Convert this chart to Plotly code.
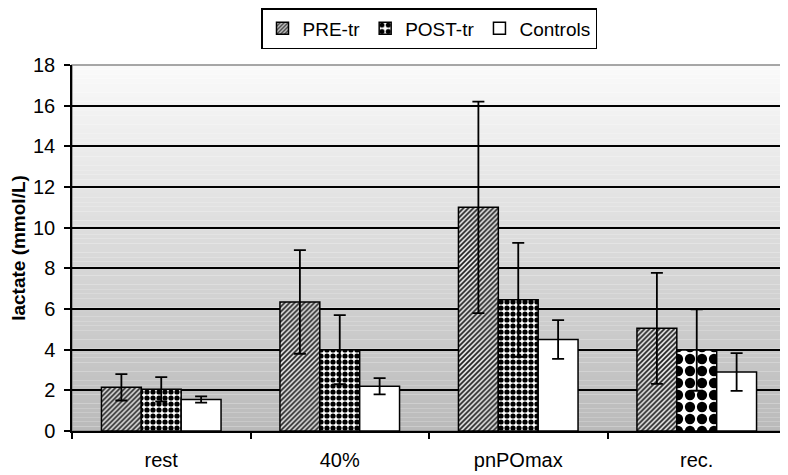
import plotly.graph_objects as go

categories = ["rest", "40%", "pnPOmax", "rec."]
pre_tr = [2.15, 6.35, 11.0, 5.05]
pre_tr_err = [0.65, 2.55, 5.2, 2.73]
post_tr = [2.05, 4.0, 6.45, 3.98]
post_tr_err = [0.6, 1.7, 2.8, 2.0]
controls = [1.55, 2.2, 4.5, 2.9]
controls_err = [0.15, 0.4, 0.95, 0.93]
y_ticks = list(range(0, 19, 2))

FONT = "Liberation Sans, Arial, sans-serif"

def err(vals):
    return dict(type="data", array=vals, visible=True, color="black", thickness=1.8, width=6)

fig = go.Figure()
fig.add_trace(go.Bar(
    name="PRE-tr", x=categories, y=pre_tr, error_y=err(pre_tr_err),
    marker=dict(color="white", line=dict(color="black", width=1.5),
                pattern=dict(shape="/", fgcolor="#222222", bgcolor="#e8e8e8", size=3.5, solidity=0.5,
                             fgopacity=1)),
))
fig.add_trace(go.Bar(
    name="POST-tr", x=categories, y=post_tr, error_y=err(post_tr_err),
    marker=dict(color="white", line=dict(color="black", width=1.5),
                pattern=dict(shape=".", fgcolor="black", bgcolor="white", size=[6, 6, 6, 12],
                             solidity=[0.6, 0.6, 0.6, 0.58], fgopacity=1)),
))
fig.add_trace(go.Bar(
    name="Controls", x=categories, y=controls, error_y=err(controls_err),
    marker=dict(color="white", line=dict(color="black", width=1.5)),
))

# gradient background bands
shapes = []
n = 80
top = (250, 250, 250)
bot = (186, 186, 186)
for i in range(n):
    f = (i + 0.5) / n
    c = tuple(int(round(bot[k] + (top[k] - bot[k]) * f)) for k in range(3))
    shapes.append(dict(type="rect", xref="paper", yref="paper", x0=0, x1=1,
                       y0=i / n, y1=(i + 1) / n, fillcolor="rgb(%d,%d,%d)" % c,
                       line=dict(width=0), layer="below"))
shapes.append(dict(type="rect", xref="paper", yref="paper", x0=0, x1=1, y0=0, y1=1,
                   line=dict(color="#8a8a8a", width=1.5), layer="below"))

fig.update_layout(
    width=780, height=467,
    margin=dict(l=64, r=2, t=57, b=44, autoexpand=False),
    paper_bgcolor="white", plot_bgcolor="rgba(0,0,0,0)",
    font=dict(family=FONT, size=20, color="black"),
    barmode="group", bargap=0.33, bargroupgap=0,
    shapes=shapes,
    showlegend=True,
    legend=dict(orientation="h", x=0.5, xanchor="center", yref="container", y=1.0, yanchor="top",
                bgcolor="white", bordercolor="black", borderwidth=1.5,
                font=dict(family=FONT, size=19), itemwidth=30, tracegroupgap=0),
    xaxis=dict(type="category", automargin=False, showline=True, linecolor="black", linewidth=1.5,
               ticks="outside", tickson="boundaries", ticklen=6, tickcolor="black", tickwidth=1.5,
               showgrid=False, tickfont=dict(size=20), ticklabelstandoff=10),
    yaxis=dict(range=[0, 18], tickvals=y_ticks, automargin=False, showline=True, linecolor="black", linewidth=1.5,
               ticks="outside", ticklen=6, tickcolor="black", tickwidth=1.5,
               showgrid=True, gridcolor="black", gridwidth=2, zeroline=False,
               tickfont=dict(size=20), ticklabelstandoff=5,
               title=dict(text="<b>lactate (mmol/L)</b>", font=dict(size=19), standoff=3)),
)

fig.write_html("out.html")
